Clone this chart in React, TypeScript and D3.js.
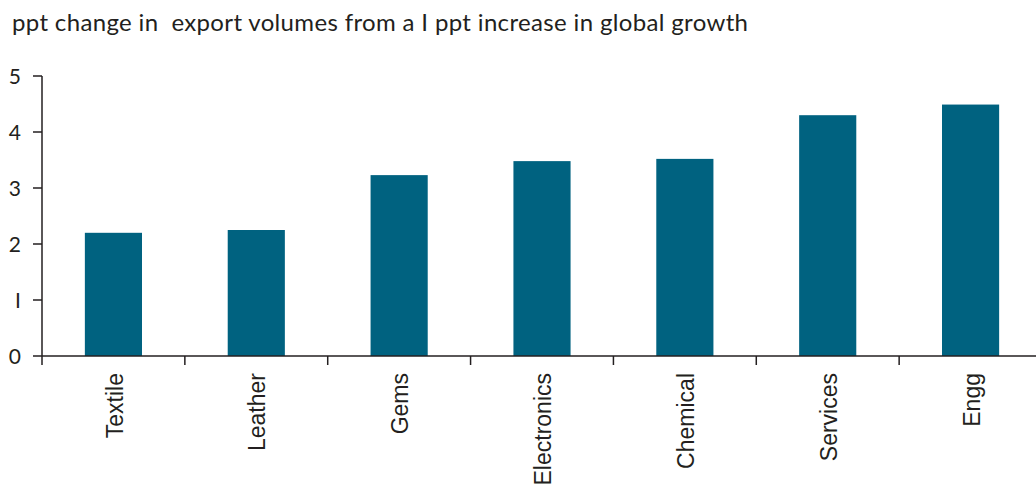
import React, { useEffect, useRef } from "react";
import * as d3 from "d3";

const categories = ["Textile", "Leather", "Gems", "Electronics", "Chemical", "Services", "Engg"];
const values = [2.2, 2.25, 3.23, 3.48, 3.52, 4.3, 4.49];
const yTicks = [0, 1, 2, 3, 4, 5];
const title = "ppt change in  export volumes from a I ppt increase in global growth";

const W = 1036;
const H = 487;

export default function App() {
  const ref = useRef<SVGSVGElement | null>(null);

  useEffect(() => {
    const svg = d3.select(ref.current);
    svg.selectAll("*").remove();

    const x0 = 42;
    const x1 = 1042;
    const yTop = 76;
    const yBot = 356;

    const x = d3.scaleBand<string>().domain(categories).range([x0, x1]).paddingInner(0).paddingOuter(0);
    const y = d3.scaleLinear().domain([0, 5]).range([yBot, yTop]);
    const barW = x.bandwidth() * 0.4;
    const axisColor = "#231f20";

    svg
      .append("text")
      .attr("x", 12)
      .attr("y", 31)
      .attr("font-family", "Lato, 'Open Sans', sans-serif")
      .attr("font-size", 24)
      .attr("textLength", 736)
      .attr("lengthAdjust", "spacing")
      .attr("fill", axisColor)
      .style("white-space", "pre")
      .text(title);

    // bars
    svg
      .append("g")
      .selectAll("rect")
      .data(categories)
      .join("rect")
      .attr("x", (d) => (x(d) as number) + x.bandwidth() / 2 - barW / 2)
      .attr("width", barW)
      .attr("y", (_, i) => y(values[i]))
      .attr("height", (_, i) => yBot - y(values[i]))
      .attr("fill", "#006280");

    // y axis
    const ya = svg.append("g");
    ya.append("line")
      .attr("x1", x0).attr("x2", x0)
      .attr("y1", y(5)).attr("y2", yBot)
      .attr("stroke", axisColor).attr("stroke-width", 1.5);
    yTicks.forEach((t) => {
      ya.append("line")
        .attr("x1", x0 - 9).attr("x2", x0)
        .attr("y1", y(t)).attr("y2", y(t))
        .attr("stroke", axisColor).attr("stroke-width", 1.5);
      ya.append("text")
        .attr("x", 21)
        .attr("y", y(t))
        .attr("dy", "0.36em")
        .attr("text-anchor", "end")
        .attr("font-family", "Lato, 'Open Sans', sans-serif")
        .attr("font-size", 21)
        .attr("fill", axisColor)
        .text(t === 1 ? "I" : String(t));
    });

    // x axis
    const xa = svg.append("g");
    xa.append("line")
      .attr("x1", x0).attr("x2", x1)
      .attr("y1", yBot).attr("y2", yBot)
      .attr("stroke", axisColor).attr("stroke-width", 1.5);
    categories.forEach((c) => {
      const bx = x(c) as number;
      xa.append("line")
        .attr("x1", bx).attr("x2", bx)
        .attr("y1", yBot).attr("y2", yBot + 9)
        .attr("stroke", axisColor).attr("stroke-width", 1.5);
      const cx = bx + x.bandwidth() / 2;
      xa.append("text")
        .attr("transform", `translate(${cx},373) rotate(-90)`)
        .attr("dy", "0.4em")
        .attr("text-anchor", "end")
        .attr("font-family", "'Liberation Sans', Arial, sans-serif")
        .attr("font-size", 23)
        .attr("fill", axisColor)
        .text(c);
    });
  }, []);

  return (
    <svg
      ref={ref}
      width={W}
      height={H}
      style={{ position: "absolute", left: 0, top: 0, background: "#fff" }}
    />
  );
}
